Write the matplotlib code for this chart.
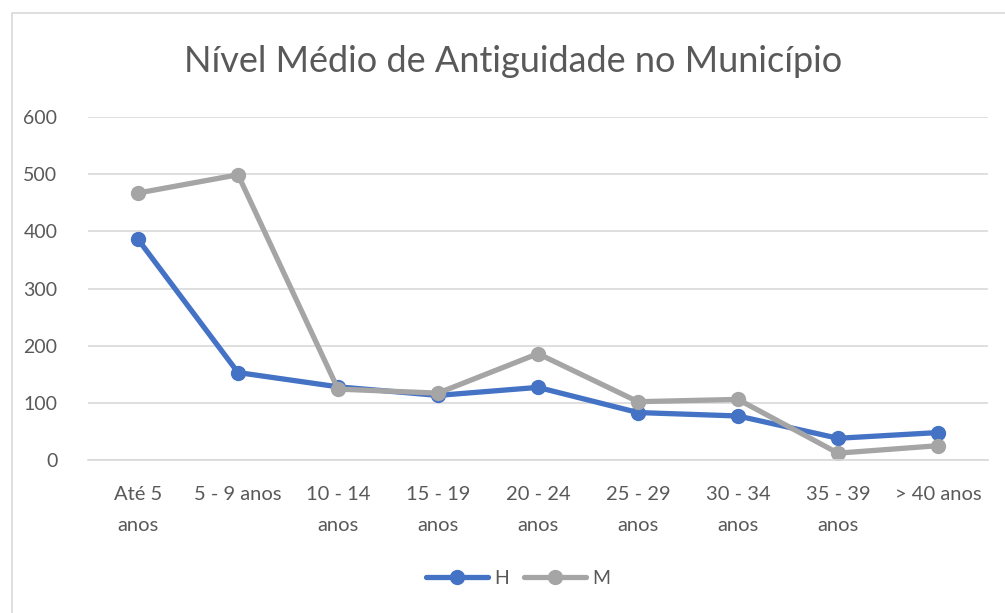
import matplotlib
matplotlib.use("Agg")
import matplotlib.pyplot as plt
from matplotlib.patches import Rectangle

plt.rcParams['font.family'] = ['Lato', 'DejaVu Sans']

categorias = ["Até 5\nanos", "5 - 9 anos", "10 - 14\nanos", "15 - 19\nanos", "20 - 24\nanos",
              "25 - 29\nanos", "30 - 34\nanos", "35 - 39\nanos", "> 40 anos"]
homens = [386, 153, 128, 113, 127, 83, 77, 38, 48]
mulheres = [467, 499, 124, 117, 186, 102, 106, 12, 25]

azul = "#4472C4"
cinza = "#A5A5A5"
texto = "#595959"

fig = plt.figure(figsize=(10.05, 6.13), dpi=100)
ax = fig.add_axes([88/1005, 1-460/613, 900/1005, 343/613])

x = range(len(categorias))
ax.plot(x, homens, color=azul, lw=3.8, marker='o', ms=10, label="H", solid_capstyle='round')
ax.plot(x, mulheres, color=cinza, lw=3.8, marker='o', ms=10, label="M", solid_capstyle='round')

ax.set_xlim(-0.5, len(categorias) - 0.5)
ax.set_ylim(0, 600)
ax.set_yticks(range(0, 601, 100))
ax.yaxis.grid(True, color="#D9D9D9", lw=1.2)
ax.set_axisbelow(True)
ax.set_xticks(list(x))
ax.set_xticklabels(categorias, va='top', linespacing=1.95)
ax.tick_params(axis='both', length=0, colors=texto, labelsize=14)
ax.tick_params(axis='x', labelsize=14.5, pad=19)
ax.tick_params(axis='y', pad=22)
for s in ['top', 'right', 'left']:
    ax.spines[s].set_visible(False)
ax.spines['bottom'].set_color("#D9D9D9")
ax.spines['bottom'].set_linewidth(1.2)

fig.text(513/1005, 1-62/613, "Nível Médio de Antiguidade no Município",
         ha='center', va='center', fontsize=26, color=texto)

ax.legend(loc='center', bbox_to_anchor=(518/1005, 1-578/613), bbox_transform=fig.transFigure,
          ncol=2, frameon=False, fontsize=14, handlelength=3.2, columnspacing=0.8,
          handletextpad=0.3, labelcolor=texto)

fig.patches.append(Rectangle((12/1005, -0.1), 1.2, 1-13/613+0.1, transform=fig.transFigure,
                             fill=False, edgecolor="#D9D9D9", lw=1.2))

fig.savefig("out.png", dpi=100)
